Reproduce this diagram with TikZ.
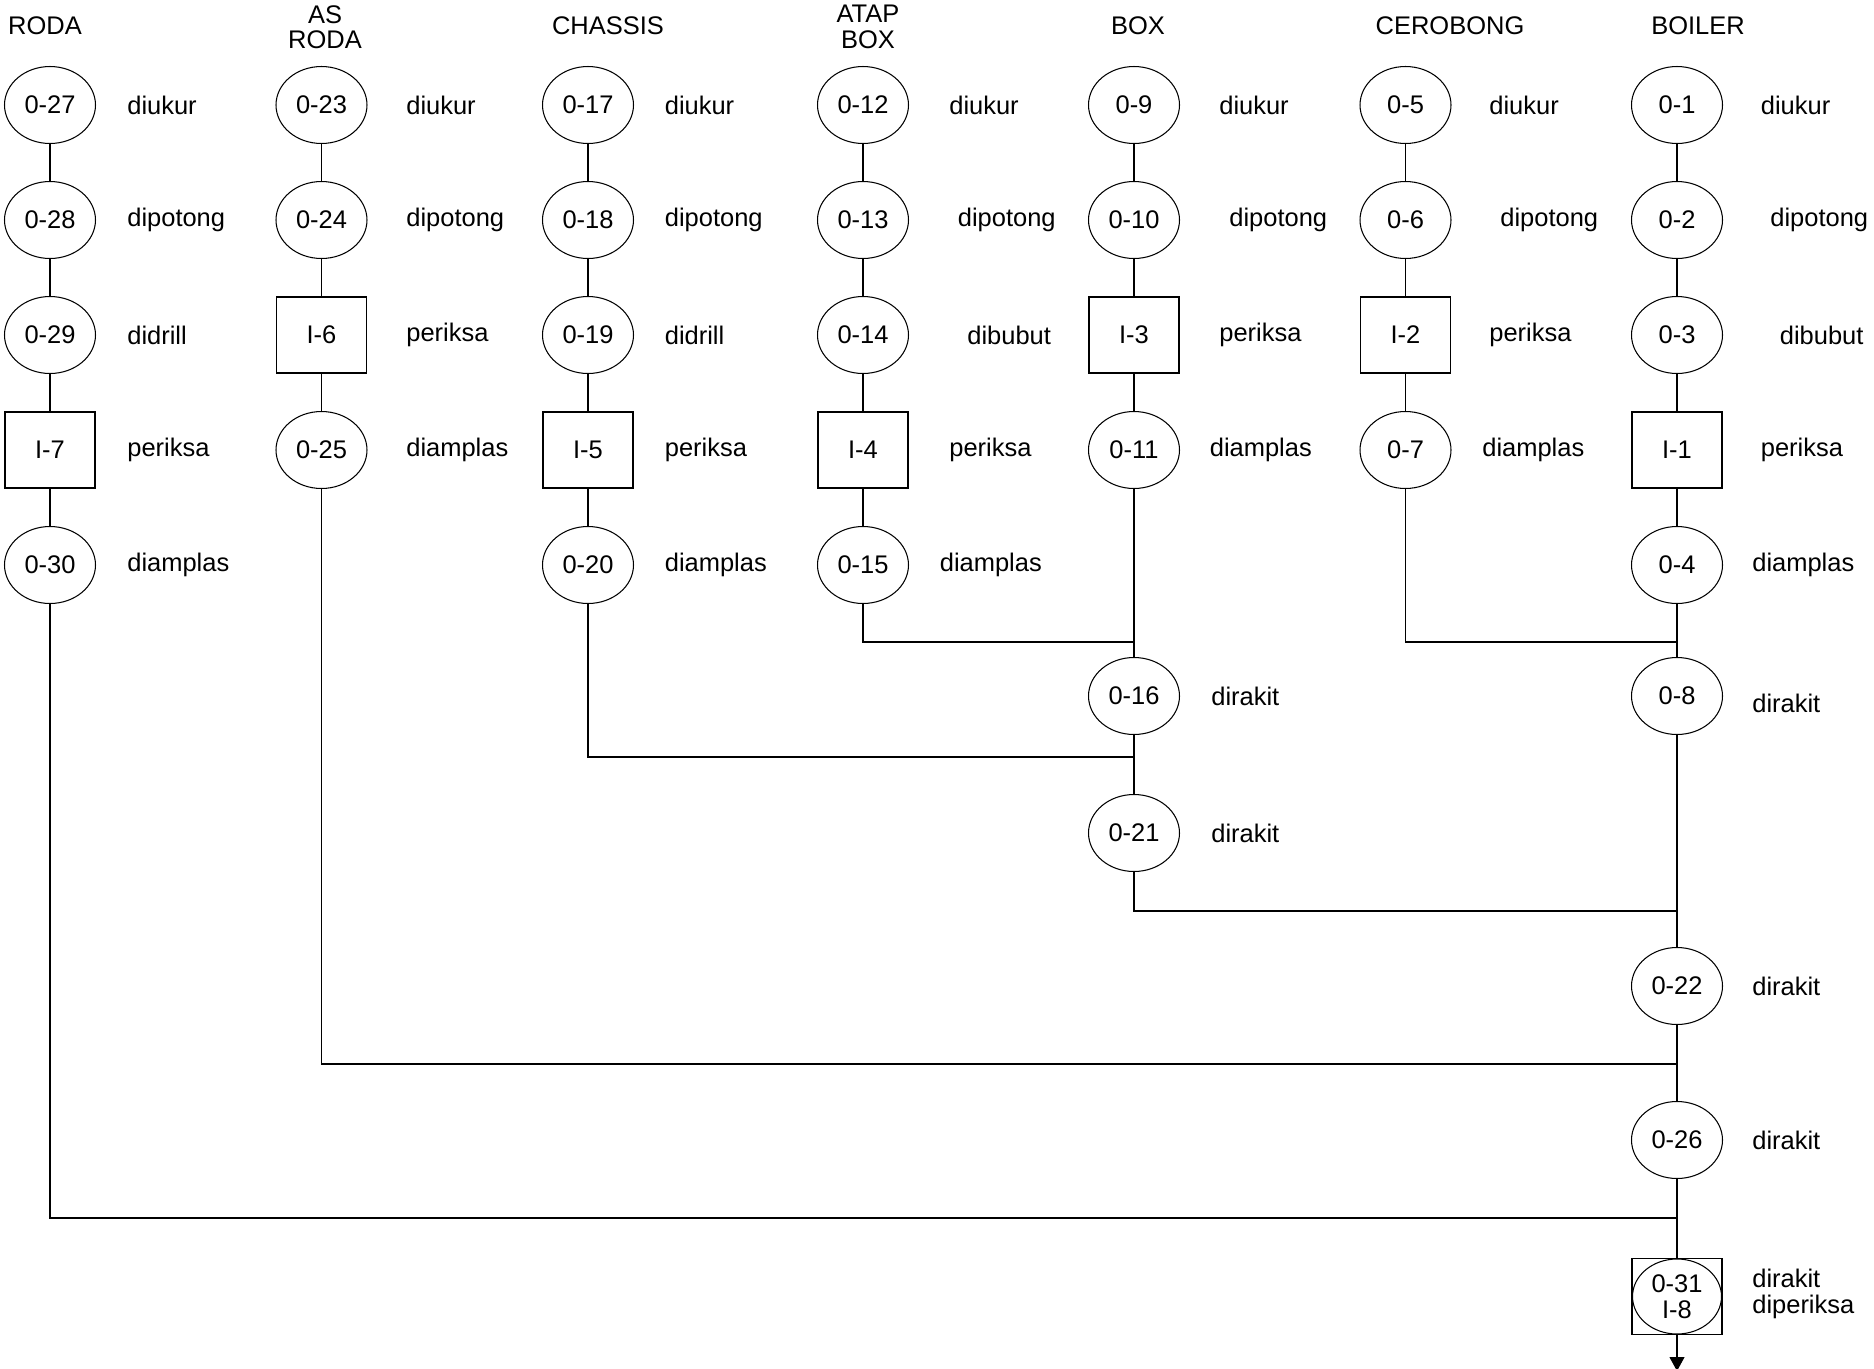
\documentclass[tikz,border=0pt]{standalone}
\usepackage{fontspec}
\setmainfont{Liberation Sans}
\usetikzlibrary{shapes.geometric,arrows.meta}
\begin{document}
\begin{tikzpicture}[x=0.02cm,y=-0.02cm,
  font=\fontsize{14.5}{14.5}\selectfont,
  ell/.style={ellipse,draw,line width=0.6pt,minimum width=1.82cm,minimum height=1.54cm,inner sep=0pt},
  sq/.style={rectangle,draw,line width=1.1pt,minimum width=1.8cm,minimum height=1.52cm,inner sep=0pt},
  lbl/.style={anchor=west,inner sep=0pt},
  hdr/.style={align=center,inner sep=0pt},
  conn/.style={line width=0.6pt}]
\useasboundingbox (0,0) rectangle (1874,1369);
% headers
\node[hdr] (hRoda) at (45,26) {RODA};
\node[hdr] (hAs) at (325,27) {AS\\RODA};
\node[hdr] (hCh) at (608,26) {CHASSIS};
\node[hdr] (hAt) at (868,27) {ATAP\\BOX};
\node[hdr] (hBox) at (1138,26) {BOX};
\node[hdr] (hCe) at (1450,26) {CEROBONG};
\node[hdr] (hBo) at (1698,26) {BOILER};
% column 1 RODA
\node[ell] (n27) at (50,105) {0-27};
\node[ell] (n28) at (50,220) {0-28};
\node[ell] (n29) at (50,335) {0-29};
\node[sq]  (i7)  at (50,450) {I-7};
\node[ell] (n30) at (50,565) {0-30};
\node[lbl] (l27) at (127,105) {diukur};
\node[lbl] (l28) at (127,220) {dipotong};
\node[lbl] (l29) at (127,335) {didrill};
\node[lbl] (li7) at (127,450) {periksa};
\node[lbl] (l30) at (127,565) {diamplas};
% column 2 AS RODA
\node[ell] (n23) at (321.5,105) {0-23};
\node[ell] (n24) at (321.5,220) {0-24};
\node[sq]  (i6)  at (321.5,335) {I-6};
\node[ell] (n25) at (321.5,450) {0-25};
\node[lbl] (l23) at (406,105) {diukur};
\node[lbl] (l24) at (406,220) {dipotong};
\node[lbl] (li6) at (406,335) {periksa};
\node[lbl] (l25) at (406,450) {diamplas};
% column 3 CHASSIS
\node[ell] (n17) at (588,105) {0-17};
\node[ell] (n18) at (588,220) {0-18};
\node[ell] (n19) at (588,335) {0-19};
\node[sq]  (i5)  at (588,450) {I-5};
\node[ell] (n20) at (588,565) {0-20};
\node[lbl] (l17) at (664.5,105) {diukur};
\node[lbl] (l18) at (664.5,220) {dipotong};
\node[lbl] (l19) at (664.5,335) {didrill};
\node[lbl] (li5) at (664.5,450) {periksa};
\node[lbl] (l20) at (664.5,565) {diamplas};
% column 4 ATAP BOX
\node[ell] (n12) at (863,105) {0-12};
\node[ell] (n13) at (863,220) {0-13};
\node[ell] (n14) at (863,335) {0-14};
\node[sq]  (i4)  at (863,450) {I-4};
\node[ell] (n15) at (863,565) {0-15};
\node[lbl] (l12) at (949,105) {diukur};
\node[lbl] (l13) at (957.5,220) {dipotong};
\node[lbl] (l14) at (967,335) {dibubut};
\node[lbl] (li4) at (949,450) {periksa};
\node[lbl] (l15) at (939.5,565) {diamplas};
% column 5 BOX
\node[ell] (n9)  at (1134,105) {0-9};
\node[ell] (n10) at (1134,220) {0-10};
\node[sq]  (i3)  at (1134,335) {I-3};
\node[ell] (n11) at (1134,450) {0-11};
\node[ell] (n16) at (1134,696) {0-16};
\node[ell] (n21) at (1134,833) {0-21};
\node[lbl] (l9)  at (1219,105) {diukur};
\node[lbl] (l10) at (1229,220) {dipotong};
\node[lbl] (li3) at (1219,335) {periksa};
\node[lbl] (l11) at (1209.5,450) {diamplas};
\node[lbl] (l16) at (1211,696) {dirakit};
\node[lbl] (l21) at (1211,833) {dirakit};
% column 6 CEROBONG
\node[ell] (n5) at (1405.5,105) {0-5};
\node[ell] (n6) at (1405.5,220) {0-6};
\node[sq]  (i2) at (1405.5,335) {I-2};
\node[ell] (n7) at (1405.5,450) {0-7};
\node[lbl] (l5)  at (1489,105) {diukur};
\node[lbl] (l6)  at (1500,220) {dipotong};
\node[lbl] (li2) at (1489,335) {periksa};
\node[lbl] (l7)  at (1482,450) {diamplas};
% column 7 BOILER
\node[ell] (n1) at (1677,105) {0-1};
\node[ell] (n2) at (1677,220) {0-2};
\node[ell] (n3) at (1677,335) {0-3};
\node[sq]  (i1) at (1677,450) {I-1};
\node[ell] (n4) at (1677,565) {0-4};
\node[ell] (n8) at (1677,696) {0-8};
\node[ell] (n22) at (1677,986) {0-22};
\node[ell] (n26) at (1677,1140) {0-26};
\node[sq]  (n31) at (1677,1296.5) {};
\node[ell,minimum width=1.78cm,minimum height=1.5cm,align=center,font=\fontsize{14.5}{15}\selectfont] (n31e) at (1677,1296.5) {0-31\\I-8};
\node[lbl] (l1) at (1760.5,105) {diukur};
\node[lbl] (l2) at (1770,220) {dipotong};
\node[lbl] (l3) at (1779.5,335) {dibubut};
\node[lbl] (li1) at (1760.5,450) {periksa};
\node[lbl] (l4) at (1752,565) {diamplas};
\node[lbl] (l8) at (1752,703) {dirakit};
\node[lbl] (l22) at (1752,986) {dirakit};
\node[lbl] (l26) at (1752,1140) {dirakit};
\node[lbl,align=left,font=\fontsize{14.5}{15}\selectfont] (l31) at (1752,1294) {dirakit\\diperiksa};
% junction coordinates
\coordinate (jA) at (1134,642);
\coordinate (jB) at (1134,757);
\coordinate (jC) at (1677,642);
\coordinate (jD) at (1677,911);
\coordinate (jE) at (1677,1064);
\coordinate (jF) at (1677,1218);
\coordinate (jEnd) at (1677,1371);
% vertical chains
\draw[conn] (n27) -- (n28) -- (n29) -- (i7) -- (n30);
\draw[conn] (n23) -- (n24) -- (i6) -- (n25);
\draw[conn] (n17) -- (n18) -- (n19) -- (i5) -- (n20);
\draw[conn] (n12) -- (n13) -- (n14) -- (i4) -- (n15);
\draw[conn] (n9) -- (n10) -- (i3) -- (n11) -- (n16) -- (n21);
\draw[conn] (n5) -- (n6) -- (i2) -- (n7);
\draw[conn] (n1) -- (n2) -- (n3) -- (i1) -- (n4) -- (n8) -- (n22) -- (n26) -- (n31);
% joins
\draw[conn] (n15) |- (jA);
\draw[conn] (n20) |- (jB);
\draw[conn] (n7) |- (jC);
\draw[conn] (n21) |- (jD);
\draw[conn] (n25) |- (jE);
\draw[conn] (n30) |- (jF);
\draw[conn,-{Triangle[width=0.3cm,length=0.28cm]}] (n31) -- (jEnd);
\end{tikzpicture}
\end{document}
